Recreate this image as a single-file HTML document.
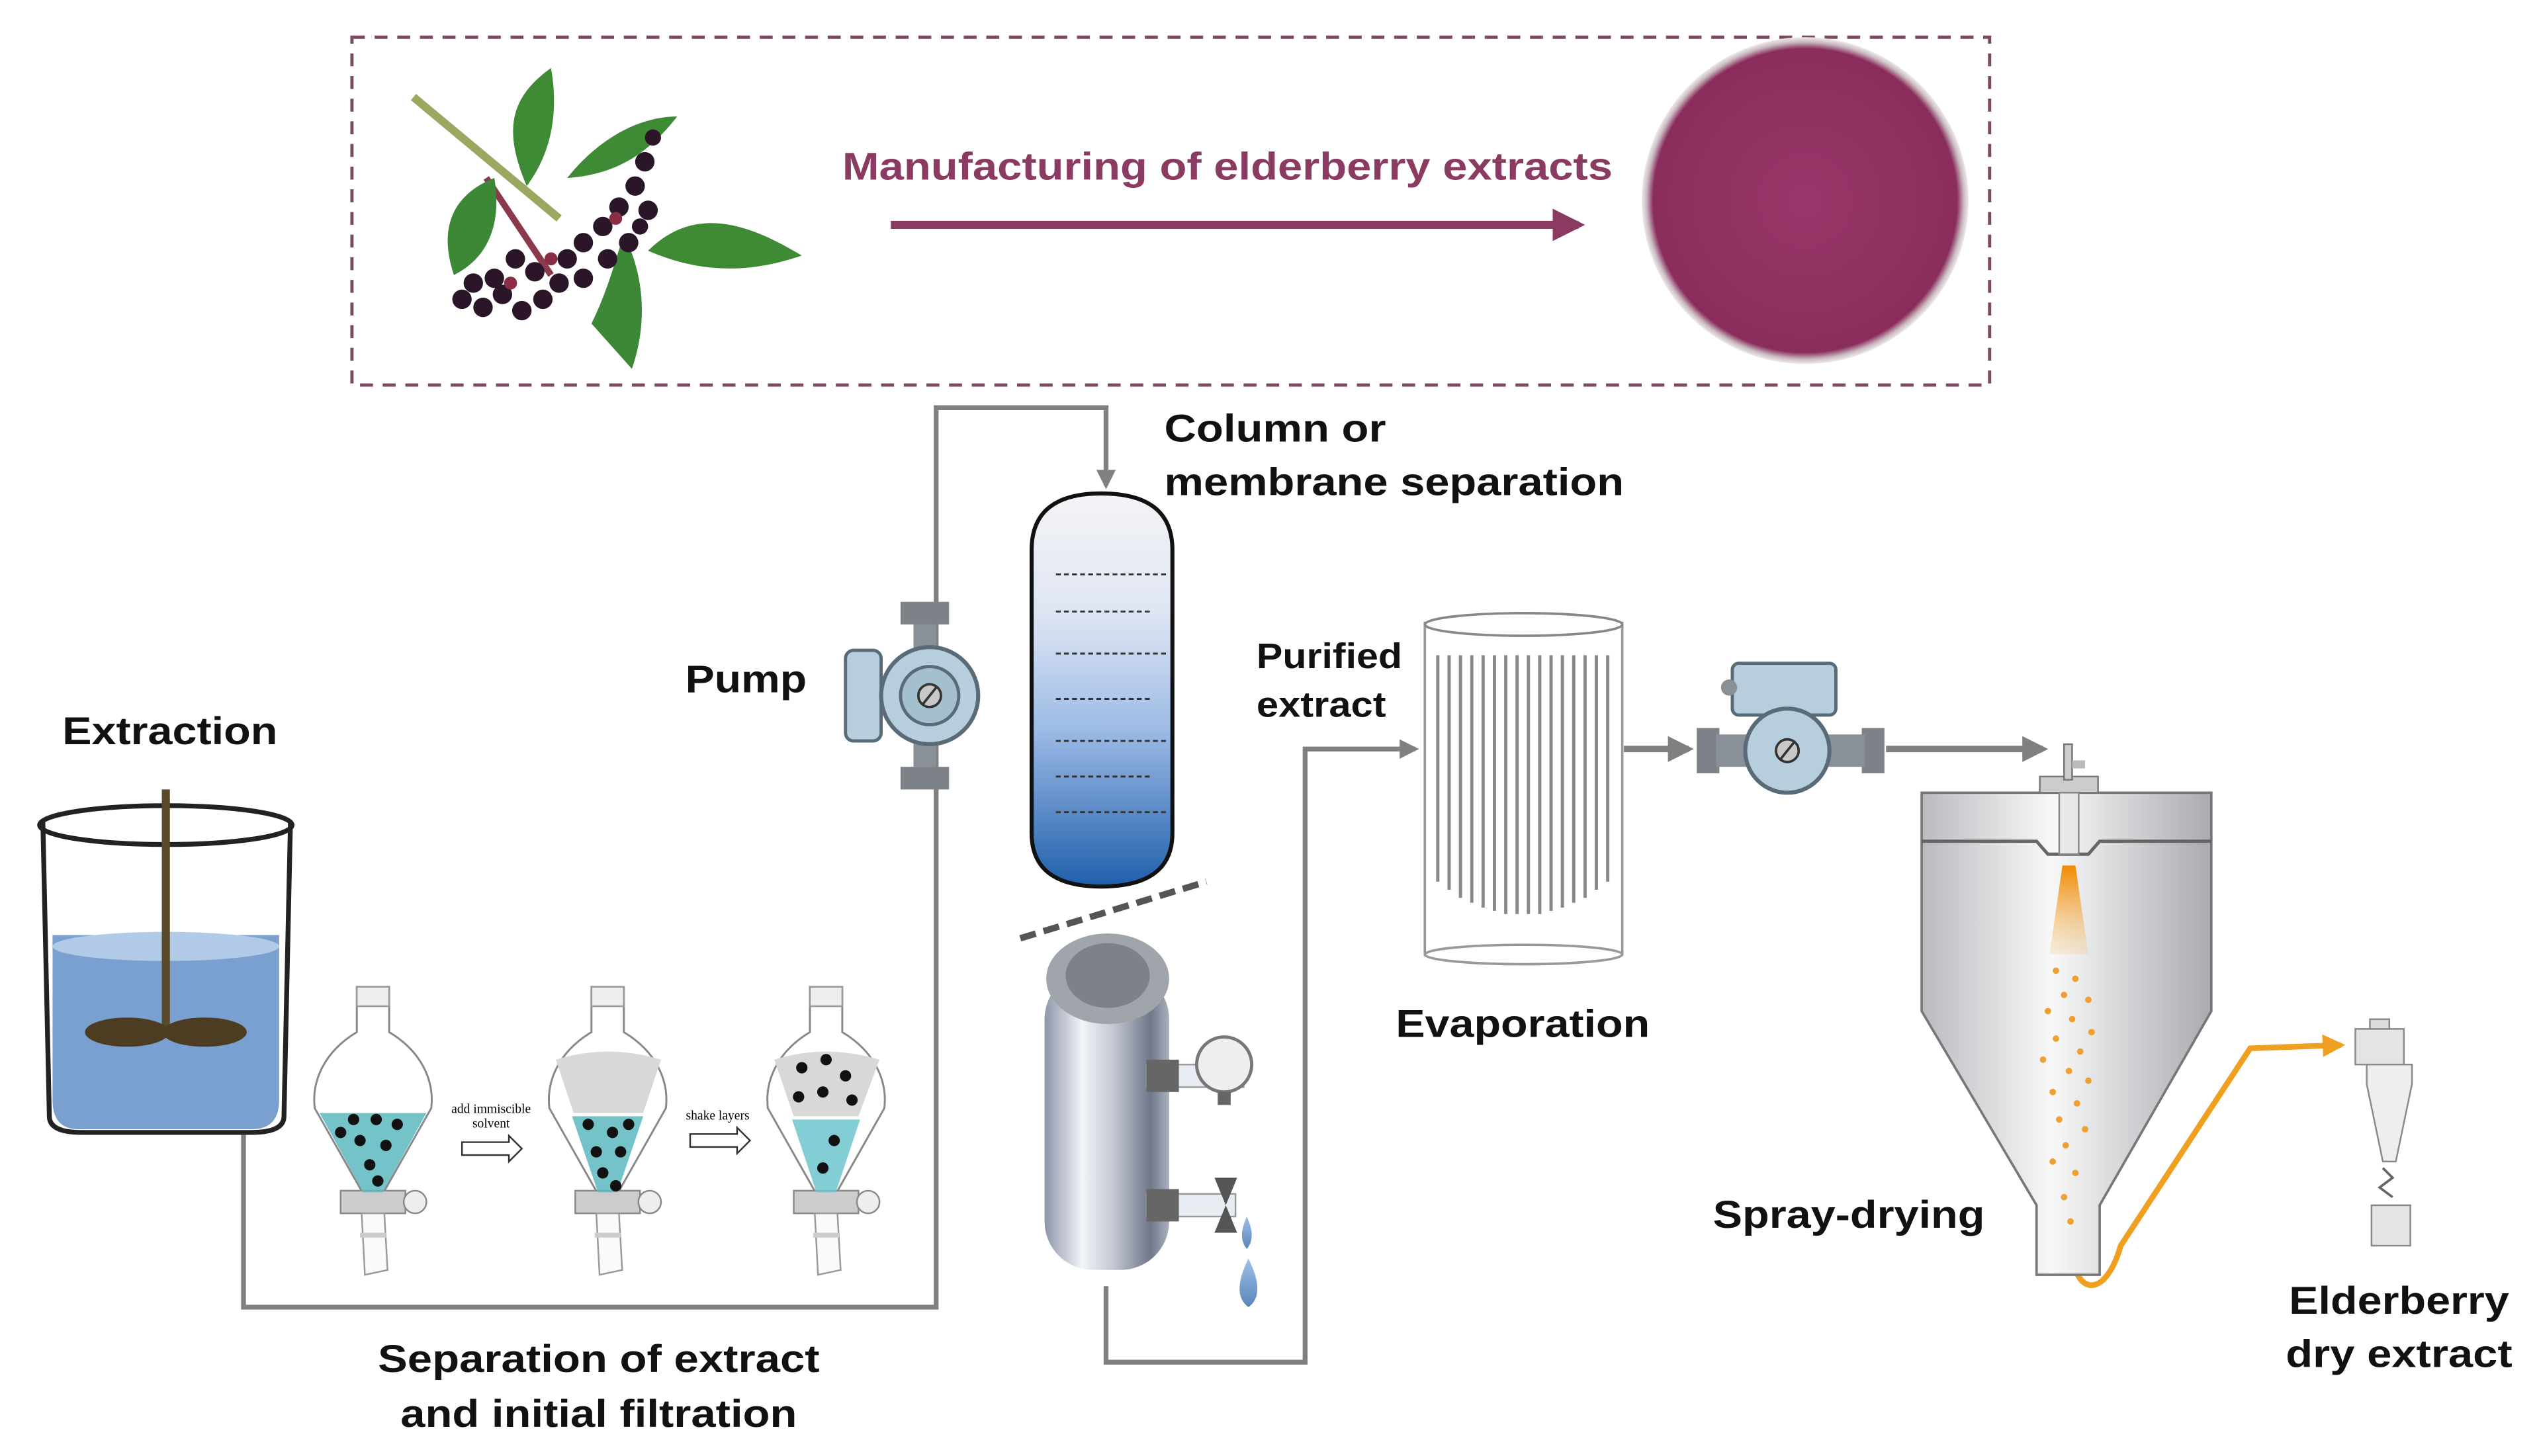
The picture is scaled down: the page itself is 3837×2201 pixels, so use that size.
<!DOCTYPE html>
<html><head><meta charset="utf-8"><style>
html,body{margin:0;padding:0;background:#fff}
svg{display:block}
text{font-family:"Liberation Sans",sans-serif;font-weight:bold}
</style></head><body>
<svg width="3837" height="2201" viewBox="0 0 1568 900" xmlns="http://www.w3.org/2000/svg">
<defs>
<linearGradient id="col" x1="0" y1="0" x2="0" y2="1">
<stop offset="0" stop-color="#f4f4f6"/><stop offset="0.3" stop-color="#dfe6f3"/><stop offset="0.6" stop-color="#9dbbe6"/><stop offset="1" stop-color="#1f5fab"/></linearGradient>
<linearGradient id="cyl" x1="0" y1="0" x2="1" y2="0">
<stop offset="0" stop-color="#8d96a8"/><stop offset="0.3" stop-color="#f2f4f8"/><stop offset="0.55" stop-color="#c3c8d3"/><stop offset="0.85" stop-color="#6f7789"/><stop offset="1" stop-color="#aab0bd"/></linearGradient>
<linearGradient id="dry" x1="0" y1="0" x2="1" y2="0">
<stop offset="0" stop-color="#b9bbbf"/><stop offset="0.45" stop-color="#f8f8f8"/><stop offset="1" stop-color="#a9abb0"/></linearGradient>
<linearGradient id="spray" x1="0" y1="0" x2="0" y2="1">
<stop offset="0" stop-color="#f08a00"/><stop offset="1" stop-color="#f8c070" stop-opacity="0.2"/></linearGradient>
<linearGradient id="water" x1="0" y1="0" x2="0" y2="1">
<stop offset="0" stop-color="#9ec0e6"/><stop offset="1" stop-color="#5a86bb"/></linearGradient>
<radialGradient id="pow" cx="0.5" cy="0.5" r="0.5">
<stop offset="0" stop-color="#98386a"/><stop offset="0.93" stop-color="#8a2d5c"/><stop offset="0.97" stop-color="#c9b8c0"/><stop offset="1" stop-color="#eeeaec"/></radialGradient>
<marker id="ga" viewBox="0 0 10 10" refX="8" refY="5" markerWidth="4" markerHeight="4" orient="auto"><path d="M0,0L10,5L0,10z" fill="#808080"/></marker>
<marker id="oa" viewBox="0 0 10 10" refX="8" refY="5" markerWidth="4" markerHeight="4" orient="auto"><path d="M0,0L10,5L0,10z" fill="#f0a020"/></marker>
<marker id="pa" viewBox="0 0 10 10" refX="8" refY="5" markerWidth="4" markerHeight="4" orient="auto"><path d="M0,0L10,5L0,10z" fill="#8b3a62"/></marker>
<g id="pump">
<rect x="-6" y="-58" width="30" height="14" fill="#7d8289"/><rect x="2" y="-44" width="14" height="88" fill="#8a9097"/><rect x="-6" y="44" width="30" height="14" fill="#7d8289"/>
<rect x="-40" y="-28" width="22" height="56" rx="5" fill="#b7cfdc" stroke="#5a6b78" stroke-width="2"/>
<circle cx="12" cy="0" r="30" fill="#b7cfdc" stroke="#5a6b78" stroke-width="2.5"/><circle cx="12" cy="0" r="18" fill="#a4bfce" stroke="#5a6b78" stroke-width="2"/>
<circle cx="12" cy="0" r="7" fill="#c8c8c8" stroke="#333" stroke-width="1.5"/><line x1="8" y1="5" x2="16" y2="-5" stroke="#333" stroke-width="1.5"/>
</g>
<g id="funnel">
<path d="M-10,0 L10,0 L10,28 C30,40 38,58 36,75 L6,128 L-6,128 L-36,75 C-38,58 -30,40 -10,28 Z" fill="#fff" stroke="#888" stroke-width="1.2"/>
<rect x="-10" y="0" width="20" height="12" fill="#eee" stroke="#999" stroke-width="1"/>
<rect x="-20" y="126" width="40" height="14" fill="#ccc" stroke="#888" stroke-width="1"/><circle cx="26" cy="133" r="7" fill="#eee" stroke="#888"/>
<path d="M-7,140 L7,140 L9,175 L-5,178 Z" fill="#fafafa" stroke="#999" stroke-width="1"/><rect x="-8" y="152" width="16" height="3" fill="#ccc"/>
</g>
</defs>

<!-- top box -->
<rect x="217" y="23" width="1012" height="215" fill="#fff" stroke="#7a4a62" stroke-width="2" stroke-dasharray="8,6"/>
<!-- berries -->
<g>
<path d="M255,60 L345,135" stroke="#9aa860" stroke-width="5"/>
<path d="M300,110 L340,170" stroke="#8a3a4a" stroke-width="4"/>
<path d="M325,115 C310,80 315,60 340,42 C345,70 340,95 325,115Z" fill="#3f8a35"/>
<path d="M350,110 C370,85 395,72 418,72 C400,95 380,108 350,110Z" fill="#3f8a35"/>
<path d="M280,170 C270,140 280,120 305,110 C310,140 300,160 280,170Z" fill="#3d8836"/>
<path d="M400,155 C430,125 465,140 495,158 C460,170 430,168 400,155Z" fill="#3f8a35"/>
<path d="M365,200 C375,180 380,160 385,145 C400,175 398,205 390,228 Z" fill="#3d8836"/>
<g fill="#2a1628">
<circle cx="285" cy="185" r="6"/><circle cx="298" cy="190" r="6"/><circle cx="310" cy="182" r="6"/><circle cx="322" cy="192" r="6"/><circle cx="335" cy="185" r="6"/><circle cx="345" cy="175" r="6"/><circle cx="330" cy="168" r="6"/><circle cx="318" cy="160" r="6"/><circle cx="350" cy="160" r="6"/><circle cx="360" cy="150" r="6"/><circle cx="372" cy="140" r="6"/><circle cx="382" cy="128" r="6"/><circle cx="392" cy="115" r="6"/><circle cx="398" cy="100" r="6"/><circle cx="400" cy="130" r="6"/><circle cx="388" cy="150" r="6"/><circle cx="375" cy="160" r="6"/><circle cx="305" cy="172" r="6"/><circle cx="292" cy="175" r="6"/><circle cx="360" cy="172" r="6"/><circle cx="403" cy="85" r="5"/><circle cx="395" cy="140" r="5"/>
</g>
<g fill="#8a2e45"><circle cx="315" cy="175" r="4"/><circle cx="340" cy="160" r="4"/><circle cx="380" cy="135" r="4"/></g>
</g>
<text x="520" y="111" font-size="24" fill="#8b3a62" textLength="476" lengthAdjust="spacingAndGlyphs">Manufacturing of elderberry extracts</text>
<line x1="550" y1="139" x2="975" y2="139" stroke="#8b3a62" stroke-width="5" marker-end="url(#pa)"/>
<circle cx="1115" cy="124" r="101" fill="url(#pow)"/>

<!-- connectors -->
<polyline points="150,700 150,808 578,808 578,252 683,252 683,300" fill="none" stroke="#808080" stroke-width="3" marker-end="url(#ga)"/>
<polyline points="683,795 683,842 806,842 806,463 874,463" fill="none" stroke="#808080" stroke-width="3" marker-end="url(#ga)"/>
<line x1="1003" y1="463" x2="1043" y2="463" stroke="#808080" stroke-width="4" marker-end="url(#ga)"/>
<line x1="1165" y1="463" x2="1262" y2="463" stroke="#808080" stroke-width="4" marker-end="url(#ga)"/>
<path d="M1280,770 C1280,800 1300,805 1310,770 L1390,648 L1446,646" fill="none" stroke="#f0a020" stroke-width="3.5" marker-end="url(#oa)"/>

<!-- beaker -->
<path d="M32,578 L172,578 L172,680 Q172,698 155,698 L48,698 Q32,698 32,680Z" fill="#7aa0d0"/>
<ellipse cx="102" cy="585" rx="70" ry="9" fill="#b0cae8"/>
<path d="M26,508 L30,690 Q30,700 50,700 L155,700 Q175,700 175,690 L179,508" fill="none" stroke="#222" stroke-width="3"/>
<ellipse cx="102" cy="510" rx="78" ry="12" fill="none" stroke="#222" stroke-width="3"/>
<line x1="102" y1="488" x2="102" y2="640" stroke="#5a4a2a" stroke-width="5"/>
<ellipse cx="78" cy="638" rx="26" ry="9" fill="#4c3d22"/><ellipse cx="126" cy="638" rx="26" ry="9" fill="#4c3d22"/>

<!-- funnels -->
<use href="#funnel" x="230" y="610"/>
<path d="M197,688 L263,688 L236,737 L224,737Z" fill="#5bb8be" opacity="0.85"/>
<use href="#funnel" x="375" y="610"/>
<path d="M343,655 Q375,645 408,655 L397,688 L354,688Z" fill="#d8d8d8"/>
<path d="M353,690 L397,690 L381,737 L369,737Z" fill="#5bb8be" opacity="0.85"/>
<use href="#funnel" x="510" y="610"/>
<path d="M478,655 Q510,645 543,655 L530,690 L490,690Z" fill="#d8d8d8"/>
<path d="M489,692 L531,692 L516,737 L504,737Z" fill="#6cc6cc" opacity="0.85"/>
<g fill="#111">
<circle cx="218" cy="692" r="3.5"/><circle cx="232" cy="692" r="3.5"/><circle cx="222" cy="705" r="3.5"/><circle cx="238" cy="708" r="3.5"/><circle cx="228" cy="720" r="3.5"/><circle cx="233" cy="730" r="3.5"/><circle cx="210" cy="700" r="3.5"/><circle cx="245" cy="695" r="3.5"/>
<circle cx="363" cy="695" r="3.5"/><circle cx="378" cy="700" r="3.5"/><circle cx="388" cy="695" r="3.5"/><circle cx="368" cy="712" r="3.5"/><circle cx="383" cy="712" r="3.5"/><circle cx="372" cy="725" r="3.5"/><circle cx="380" cy="733" r="3.5"/>
<circle cx="495" cy="660" r="3.5"/><circle cx="510" cy="655" r="3.5"/><circle cx="522" cy="665" r="3.5"/><circle cx="493" cy="678" r="3.5"/><circle cx="508" cy="675" r="3.5"/><circle cx="526" cy="680" r="3.5"/><circle cx="515" cy="705" r="3.5"/><circle cx="508" cy="722" r="3.5"/>
</g>
<text x="303" y="688" font-size="8" text-anchor="middle" style="font-family:'Liberation Serif',serif;font-weight:normal">add immiscible</text>
<text x="303" y="697" font-size="8" text-anchor="middle" style="font-family:'Liberation Serif',serif;font-weight:normal">solvent</text>
<text x="443" y="692" font-size="8" text-anchor="middle" style="font-family:'Liberation Serif',serif;font-weight:normal">shake layers</text>
<path d="M285,706 L314,706 L314,702 L322,710 L314,718 L314,714 L285,714Z" fill="#fff" stroke="#333"/>
<path d="M426,701 L455,701 L455,697 L463,705 L455,713 L455,709 L426,709Z" fill="#fff" stroke="#333"/>

<!-- pump1 -->
<use href="#pump" x="562" y="430"/>

<!-- column -->
<path d="M637,340 Q637,305 680,305 Q724,305 724,340 L724,515 Q724,548 680,548 Q637,548 637,515Z" fill="url(#col)" stroke="#111" stroke-width="2.5"/>
<g stroke="#333" stroke-width="1.2" stroke-dasharray="3,2">
<line x1="652" y1="355" x2="720" y2="355"/><line x1="652" y1="378" x2="712" y2="378"/><line x1="652" y1="404" x2="720" y2="404"/><line x1="652" y1="432" x2="712" y2="432"/><line x1="652" y1="458" x2="720" y2="458"/><line x1="652" y1="480" x2="712" y2="480"/><line x1="652" y1="502" x2="720" y2="502"/>
</g>
<line x1="630" y1="580" x2="745" y2="545" stroke="#555" stroke-width="4" stroke-dasharray="10,5"/>

<!-- membrane cylinder -->
<rect x="645" y="600" width="77" height="185" rx="30" fill="url(#cyl)"/>
<ellipse cx="684" cy="605" rx="38" ry="28" fill="#a0a4ab"/><ellipse cx="684" cy="603" rx="26" ry="20" fill="#7d8189"/>
<rect x="708" y="658" width="60" height="14" fill="#e6ecf2" stroke="#999"/><rect x="708" y="655" width="20" height="20" fill="#666"/>
<circle cx="756" cy="658" r="17" fill="#eee" stroke="#777" stroke-width="2"/><rect x="752" y="675" width="8" height="8" fill="#666"/>
<rect x="708" y="738" width="55" height="14" fill="#e6ecf2" stroke="#999"/><rect x="708" y="735" width="20" height="20" fill="#666"/>
<path d="M750,728 L764,728 L750,762 L764,762Z" fill="#555"/>
<path d="M770,752 Q776,765 770,772 Q764,765 770,752Z" fill="url(#water)"/>
<path d="M771,778 Q782,800 771,808 Q760,800 771,778Z" fill="url(#water)"/>

<!-- evaporator -->
<rect x="880" y="385" width="122" height="205" fill="#fff" stroke="#999" stroke-width="1.5"/>
<ellipse cx="941" cy="386" rx="61" ry="7" fill="#fff" stroke="#888" stroke-width="1.5"/>
<ellipse cx="941" cy="590" rx="61" ry="6" fill="#fff" stroke="#999" stroke-width="1.5"/>
<g stroke="#888" stroke-width="2">
<line x1="888" y1="405" x2="888" y2="545"/><line x1="895" y1="405" x2="895" y2="550"/><line x1="902" y1="405" x2="902" y2="555"/><line x1="909" y1="405" x2="909" y2="558"/><line x1="916" y1="405" x2="916" y2="561"/><line x1="923" y1="405" x2="923" y2="563"/><line x1="930" y1="405" x2="930" y2="565"/><line x1="937" y1="405" x2="937" y2="565"/><line x1="944" y1="405" x2="944" y2="565"/><line x1="951" y1="405" x2="951" y2="565"/><line x1="958" y1="405" x2="958" y2="563"/><line x1="965" y1="405" x2="965" y2="561"/><line x1="972" y1="405" x2="972" y2="558"/><line x1="979" y1="405" x2="979" y2="555"/><line x1="986" y1="405" x2="986" y2="550"/><line x1="993" y1="405" x2="993" y2="545"/>
</g>

<!-- pump2 -->
<g>
<rect x="1048" y="450" width="14" height="28" fill="#7d8289"/><rect x="1150" y="450" width="14" height="28" fill="#7d8289"/>
<rect x="1060" y="454" width="92" height="20" fill="#8a9097"/>
<rect x="1070" y="410" width="64" height="32" rx="4" fill="#b7cfdc" stroke="#5a6b78" stroke-width="2"/>
<circle cx="1068" cy="425" r="5" fill="#8a9097"/>
<circle cx="1104" cy="464" r="26" fill="#b7cfdc" stroke="#5a6b78" stroke-width="2.5"/>
<circle cx="1104" cy="464" r="7" fill="#c8c8c8" stroke="#333" stroke-width="1.5"/><line x1="1100" y1="469" x2="1108" y2="459" stroke="#333" stroke-width="1.5"/>
</g>

<!-- spray dryer -->
<path d="M1187,490 L1366,490 L1366,625 L1297,745 L1297,788 L1258,788 L1258,745 L1187,625Z" fill="url(#dry)" stroke="#777" stroke-width="1.5"/>
<path d="M1187,520 L1258,520 L1265,528 L1290,528 L1297,520 L1366,520" fill="none" stroke="#666" stroke-width="2"/>
<rect x="1260" y="480" width="36" height="10" fill="#ccc" stroke="#777"/>
<rect x="1272" y="490" width="12" height="38" fill="#e8e8e8" stroke="#888"/>
<rect x="1275" y="460" width="5" height="22" fill="#ccc" stroke="#777"/><rect x="1280" y="470" width="8" height="5" fill="#bbb"/>
<path d="M1274,535 L1282,535 L1290,590 L1266,590Z" fill="url(#spray)"/>
<g fill="#f0a030">
<circle cx="1270" cy="600" r="2"/><circle cx="1282" cy="605" r="2"/><circle cx="1275" cy="615" r="2"/><circle cx="1290" cy="618" r="2"/><circle cx="1265" cy="625" r="2"/><circle cx="1280" cy="630" r="2"/><circle cx="1292" cy="638" r="2"/><circle cx="1270" cy="642" r="2"/><circle cx="1285" cy="650" r="2"/><circle cx="1262" cy="655" r="2"/><circle cx="1278" cy="662" r="2"/><circle cx="1290" cy="668" r="2"/><circle cx="1268" cy="675" r="2"/><circle cx="1283" cy="682" r="2"/><circle cx="1272" cy="692" r="2"/><circle cx="1288" cy="698" r="2"/><circle cx="1276" cy="708" r="2"/><circle cx="1268" cy="718" r="2"/><circle cx="1282" cy="725" r="2"/><circle cx="1275" cy="740" r="2"/><circle cx="1279" cy="755" r="2"/>
</g>

<!-- cyclone -->
<rect x="1455" y="636" width="30" height="22" fill="#e4e4e4" stroke="#888"/><rect x="1464" y="630" width="12" height="6" fill="#ddd" stroke="#888"/>
<path d="M1462,658 L1490,658 L1490,670 L1480,718 L1472,718 L1462,670Z" fill="#eee" stroke="#888"/>
<path d="M1472,722 L1478,728 L1470,734 L1478,740" fill="none" stroke="#666" stroke-width="1.5"/>
<rect x="1465" y="745" width="24" height="25" fill="#e4e4e4" stroke="#888"/>

<!-- labels -->
<g font-size="24" fill="#111" lengthAdjust="spacingAndGlyphs">
<text x="38" y="460" textLength="133" lengthAdjust="spacingAndGlyphs">Extraction</text>
<text x="423" y="428" textLength="75" lengthAdjust="spacingAndGlyphs">Pump</text>
<text x="719" y="273" textLength="137" lengthAdjust="spacingAndGlyphs">Column or</text>
<text x="719" y="306" textLength="284" lengthAdjust="spacingAndGlyphs">membrane separation</text>
<text x="776" y="413" font-size="22" textLength="90" lengthAdjust="spacingAndGlyphs">Purified</text>
<text x="776" y="443" font-size="22" textLength="80" lengthAdjust="spacingAndGlyphs">extract</text>
<text x="862" y="641" textLength="157" lengthAdjust="spacingAndGlyphs">Evaporation</text>
<text x="1058" y="759" textLength="168" lengthAdjust="spacingAndGlyphs">Spray-drying</text>
<text x="1414" y="812" textLength="136" lengthAdjust="spacingAndGlyphs">Elderberry</text>
<text x="1412" y="845" textLength="140" lengthAdjust="spacingAndGlyphs">dry extract</text>
<text x="233" y="848" textLength="273" lengthAdjust="spacingAndGlyphs">Separation of extract</text>
<text x="247" y="882" textLength="245" lengthAdjust="spacingAndGlyphs">and initial filtration</text>
</g>
</svg>
</body></html>
